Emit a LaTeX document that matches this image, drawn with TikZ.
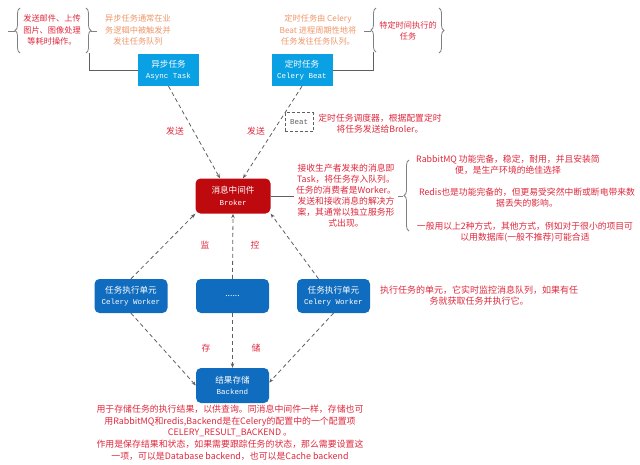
\documentclass[tikz,border=0pt]{standalone}
\usepackage{fontspec}
\setmainfont{Noto Sans CJK SC}
\newfontfamily\monof{Liberation Mono}
\usetikzlibrary{arrows.meta,decorations.pathreplacing,calc}
\definecolor{redtxt}{RGB}{222,40,60}
\definecolor{orangetxt}{RGB}{238,150,105}
\definecolor{cyanbox}{RGB}{10,160,228}
\definecolor{bluebox}{RGB}{16,108,190}
\definecolor{brokerred}{RGB}{190,10,15}
\definecolor{dgray}{RGB}{95,95,95}
\newcommand{\lat}[1]{{\monof\fontsize{7.5}{11}\selectfont #1}}
\begin{document}
\begin{tikzpicture}[x=1pt,y=-1pt,
  box/.style={rectangle, text=white, align=center, inner sep=0pt, font=\fontsize{8.6}{11.5}\selectfont},
  cbox/.style={box, fill=cyanbox, minimum width=61pt, minimum height=32pt},
  bbox/.style={box, fill=bluebox, rounded corners=5pt, minimum width=73pt, minimum height=34pt},
  rbox/.style={box, fill=brokerred, rounded corners=5pt, minimum width=75pt, minimum height=35pt},
  note/.style={align=center, text=redtxt, inner sep=0pt, font=\fontsize{8.8}{11}\selectfont},
  snote/.style={note, font=\fontsize{8.2}{11.3}\selectfont},
  onote/.style={snote, text=orangetxt},
  lbl/.style={text=redtxt, inner sep=0pt, font=\fontsize{8.8}{10}\selectfont},
  dline/.style={draw=dgray, dash pattern=on 4pt off 3pt, line width=0.8pt, -{Stealth[length=4.5pt,width=3.5pt]}},
  conn/.style={draw=dgray, line width=0.9pt},
  brc/.style={draw=gray, line width=0.8pt, decorate, decoration={brace, amplitude=5pt}}
]
\useasboundingbox (0,0) rectangle (640,464);

% boxes
\node[cbox] (async) at (168.5,70) {异步任务\\\lat{Async Task}};
\node[cbox] (beat) at (302,70) {定时任务\\\lat{Celery Beat}};
\node[rbox] (broker) at (233,196) {消息中间件\\\lat{Broker}};
\node[bbox] (w1) at (131,296) {任务执行单元\\\lat{Celery Worker}};
\node[bbox] (dots) at (232.5,296) {......};
\node[bbox] (w2) at (333.5,296) {任务执行单元\\\lat{Celery Worker}};
\node[bbox, minimum height=35pt] (backend) at (232.5,385.5) {结果存储\\\lat{Backend}};
\node[draw=dgray, dash pattern=on 3pt off 2pt, line width=0.8pt, text=dgray, minimum width=28pt, minimum height=19pt, inner sep=0pt, font=\monof\fontsize{7.5}{9}\selectfont] (beatbox) at (299,122) {Beat};

% top-left group
\node[snote] (t1) at (52,30) {发送邮件、上传\\图片、图像处理\\等耗时操作。};
\node[onote] (t2) at (138,30) {异步任务通常在业\\务逻辑中被触发并\\发往任务队列};
\coordinate (lb1) at (20,53); \coordinate (lb2) at (20,8);
\draw[brc] (lb1) -- (lb2);
\coordinate (rb1) at (86,8); \coordinate (rb2) at (86,53);
\draw[brc] (rb1) -- (rb2);
\coordinate (ls1) at (8,31); \coordinate (ls2) at (15,31);
\draw[conn, draw=gray] (ls1) -- (ls2);
\coordinate (rs1) at (91,31); \coordinate (rs2) at (97,31);
\draw[conn, draw=gray] (rs1) -- (rs2);
\coordinate (b1end) at (89,53);
\draw[conn] (b1end) |- (async.west);

% top-right group
\node[onote] (t3) at (318,30) {定时任务由 Celery\\Beat 进程周期性地将\\任务发往任务队列。};
\node[snote] (t4) at (408,31) {特定时间执行的\\任务};
\coordinate (lb3) at (376,52); \coordinate (lb4) at (376,8);
\draw[brc] (lb3) -- (lb4);
\coordinate (rb3) at (439,8); \coordinate (rb4) at (439,53);
\draw[brc] (rb3) -- (rb4);
\coordinate (ls3) at (364,31); \coordinate (ls4) at (371,31);
\draw[conn, draw=gray] (ls3) -- (ls4);
\coordinate (b2end) at (373,52);
\draw[conn] (beat.east) -| (b2end);

% beat note
\node[note] (t5) at (380,124) {定时任务调度器，根据配置定时\\将任务发送给Broler。};

% broker note and storage options
\node[note] (t6) at (346,196) {接收生产者发来的消息即\\Task，将任务存入队列。\\任务的消费者是Worker。\\发送和接收消息的解决方\\案，其通常以独立服务形\\式出现。};
\coordinate (bn1) at (294,196);
\draw[conn] (broker.east) -- (bn1);
\coordinate (bs1) at (398,196); \coordinate (bs2) at (403,196);
\draw[conn, draw=gray] (bs1) -- (bs2);
\coordinate (lb5) at (409,231); \coordinate (lb6) at (409,160);
\draw[brc] (lb5) -- (lb6);
\node[note] (p1) at (508,165) {RabbitMQ 功能完备，稳定，耐用，并且安装简\\便，是生产环境的绝佳选择};
\node[note] (p2) at (527,198) {Redis也是功能完备的，但更易受突然中断或断电带来数\\据丢失的影响。};
\node[note] (p3) at (525,232) {一般用以上2种方式，其他方式，例如对于很小的项目可\\以用数据库(一般不推荐)可能合适};

% worker note
\node[note, font=\fontsize{9}{11}\selectfont] (t7) at (479,296) {执行任务的单元，它实时监控消息队列，如果有任\\务就获取任务并执行它。};

% backend note
\node[note, font=\fontsize{8.9}{11.7}\selectfont] (t8) at (230,432.5) {用于存储任务的执行结果，以供查询。同消息中间件一样，存储也可\\用RabbitMQ和redis,Backend是在Celery的配置中的一个配置项\\CELERY\_RESULT\_BACKEND 。\\作用是保存结果和状态，如果需要跟踪任务的状态，那么需要设置这\\一项，可以是Database backend，也可以是Cache backend};

% dashed connectors
\draw[dline] (async.south) -- ([xshift=-13pt]broker.north);
\draw[dline] (beat.south) -- ([xshift=10pt]broker.north);
\draw[dline] (w1.north) -- (broker.south west);
\draw[dline] (dots.north) -- (broker.south);
\draw[dline] ([xshift=-15pt]w2.north) -- (broker.south east);
\draw[dline] (w1.south) -- (backend.west);
\draw[dline] (dots.south) -- (backend.north);
\draw[dline] (w2.south) -- ([yshift=3pt]backend.east);

% labels
\node[lbl] (s1) at (175,131) {发送};
\node[lbl] (s2) at (256,131) {发送};
\node[lbl] (m1) at (205,245) {监};
\node[lbl] (m2) at (255,245) {控};
\node[lbl] (c1) at (206,348) {存};
\node[lbl] (c2) at (256,348) {储};
\end{tikzpicture}
\end{document}
